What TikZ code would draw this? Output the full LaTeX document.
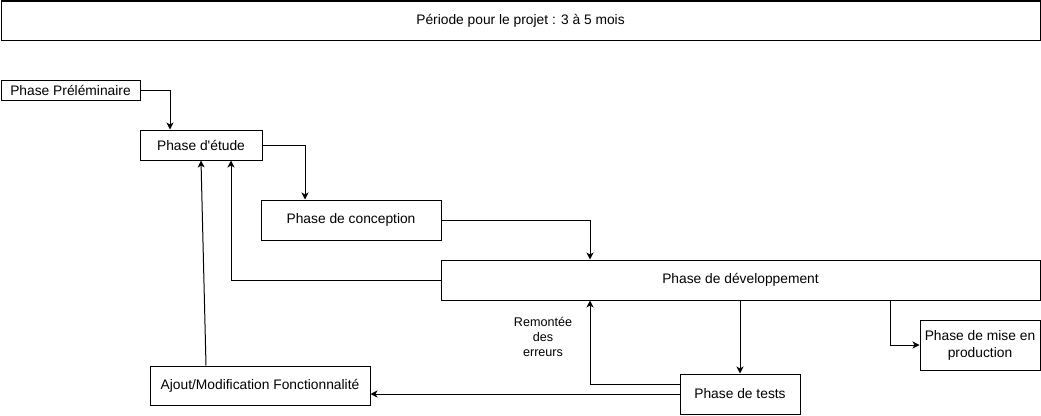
\documentclass[tikz,border=0pt]{standalone}
\usepackage{fontspec}
\setmainfont{Liberation Sans}
\usetikzlibrary{arrows.meta}
\begin{document}
\begin{tikzpicture}[x=1pt,y=-1pt,
  box/.style={draw=black,line width=1pt,rectangle,inner sep=0pt,font=\fontsize{13.8}{17}\selectfont,align=center,fill=white},
  arr/.style={draw=black,line width=1pt,-{Stealth[length=7pt,width=7pt,inset=2pt]}},
  lbl/.style={font=\fontsize{12.6}{15}\selectfont,align=center}]
\useasboundingbox (0,0) rectangle (1041,415);
\node[box,minimum width=1039pt,minimum height=39pt] (top) at (520.5,20.5) {Période pour le projet : 3 à 5 mois};
\node[box,minimum width=139pt,minimum height=20pt] (pre) at (70.5,90.5) {Phase Préléminaire};
\node[box,minimum width=122pt,minimum height=30pt] (etude) at (201,145) {Phase d\textquotesingle étude};
\node[box,minimum width=180pt,minimum height=40pt] (conc) at (351,220) {Phase de conception};
\node[box,minimum width=599pt,minimum height=40pt] (dev) at (740.5,280) {Phase de développement};
\node[box,minimum width=120pt,minimum height=50pt] (prod) at (980,345) {Phase de mise en\\production};
\node[box,minimum width=120pt,minimum height=40pt] (tests) at (740,394) {Phase de tests};
\node[box,minimum width=220pt,minimum height=39pt] (ajout) at (260,385.5) {Ajout/Modification Fonctionnalité};
\node[lbl] (rem) at (543,337) {Remontée\\des\\erreurs};
\draw[arr] (pre.east) -| ([xshift=-31pt]etude.north);
\draw[arr] (etude.east) -| ([xshift=-46pt]conc.north);
\draw[arr] (conc.east) -| ([xshift=-150.5pt]dev.north);
\draw[arr] (dev.west) -| ([xshift=30pt]etude.south);
\draw[arr] (dev.south -| tests.north) -- (tests.north);
\draw[arr] ([xshift=150pt]dev.south) |- (prod.west);
\draw[arr] ([yshift=10pt]tests.west) -| ([xshift=-150.5pt]dev.south);
\draw[arr] (tests.west) -- (tests.west -| ajout.east);
\draw[arr] ([xshift=-54pt]ajout.north) -- (etude.south);
\end{tikzpicture}
\end{document}
